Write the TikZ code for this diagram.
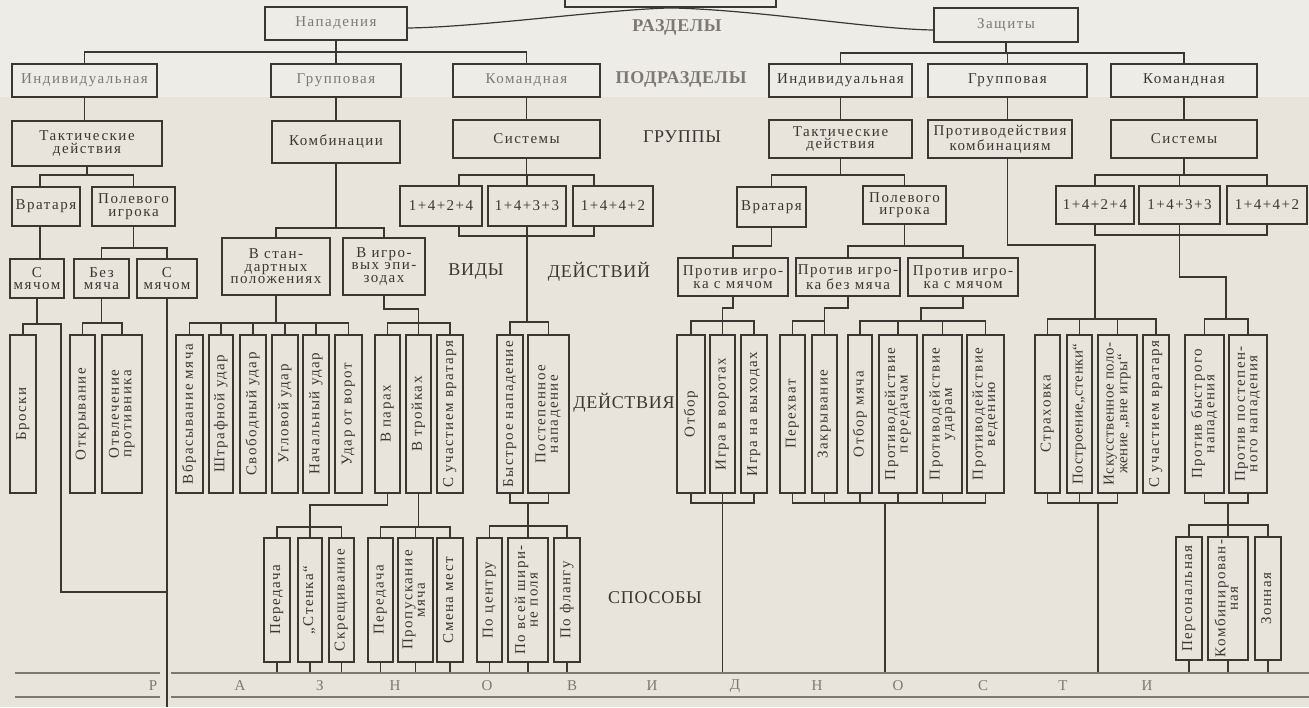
\documentclass[tikz,border=0pt]{standalone}
\usepackage{fontspec}
\usepackage{graphicx}
\setmainfont{Liberation Serif}
\newfontfamily\bxf[LetterSpace=10]{Liberation Serif}
\newfontfamily\bxn[LetterSpace=3]{Liberation Serif}
\newfontfamily\hdf[LetterSpace=4]{Liberation Serif}
\definecolor{paper}{RGB}{232,228,220}
\definecolor{paperl}{RGB}{238,236,231}
\definecolor{ink}{RGB}{58,54,50}
\definecolor{fade}{RGB}{125,120,115}
\newcommand\vt[1]{\rotatebox{90}{\begin{tabular}{@{}c@{}}#1\end{tabular}}}
\newcommand\bx[7][]{\pgfmathsetmacro\bw{#5-#3}\pgfmathsetmacro\bh{#6-#4}%
  \node[box,#1,minimum width=\bw pt,minimum height=\bh pt] (#2) at ({(#3+#5)/2},{(#4+#6)/2}) {#7};}
\tikzset{
  box/.style={draw=ink,line width=1.8pt,inner sep=0pt,align=center,text=ink,
    font=\bxf\fontsize{15}{12.5}\selectfont},
  narrow/.style={font=\bxn\fontsize{15}{12.5}\selectfont},
  faded/.style={text=fade},
  ln/.style={draw=ink,line width=1.2pt},
  hd/.style={text=ink,font=\hdf\fontsize{18}{18}\selectfont,inner sep=0pt},
  hdb/.style={text=fade,font=\hdf\bfseries\fontsize{18}{18}\selectfont,inner sep=0pt},
  lt/.style={text=fade,font=\fontsize{15}{15}\selectfont,inner sep=0pt},
  base/.style={draw=fade,line width=1.6pt}
}
\begin{document}
\begin{tikzpicture}[x=1pt,y=-1pt]
\useasboundingbox (0,0) rectangle (1309,707);
\clip (0,0) rectangle (1309,707);
\fill[paper] (0,0) rectangle (1309,707);
\fill[paperl] (0,0) rectangle (1309,97);
% ---------- level 1
\bx{top}{565}{-30}{776}{7}{}
\bx[faded]{napad}{265}{7}{407}{40}{Нападения}
\bx[faded]{zash}{934}{8}{1078}{42}{Защиты}
\node[hdb] (lraz) at (677,27) {РАЗДЕЛЫ};
% ---------- level 2
\bx[faded]{aInd}{12}{64}{157}{97}{Индивидуальная}
\bx[faded]{aGrp}{271}{64}{401}{97}{Групповая}
\bx[faded]{aKom}{453}{64}{600}{97}{Командная}
\bx{dInd}{769}{64}{912}{97}{Индивидуальная}
\bx{dGrp}{928}{64}{1087}{97}{Групповая}
\bx{dKom}{1111}{64}{1257}{97}{Командная}
\node[hdb] (lpod) at (681,79) {ПОДРАЗДЕЛЫ};
% ---------- level 3
\bx{aTak}{12}{121}{162}{166}{Тактические\\действия}
\bx{aKomb}{272}{121}{400}{163}{Комбинации}
\bx{aSys}{453}{120}{600}{158}{Системы}
\bx{dTak}{769}{120}{912}{158}{Тактические\\действия}
\bx{dPro}{928}{120}{1072}{158}{Противодействия\\комбинациям}
\bx{dSys}{1111}{120}{1257}{158}{Системы}
\node[hd] (lgr) at (682,137) {ГРУППЫ};
% ---------- level 4
\bx{aVrat}{12}{187}{80}{226}{Вратаря}
\bx{aPol}{92}{187}{175}{226}{Полевого\\игрока}
\bx{aS1}{222}{238}{330}{295}{В стан-\\дартных\\положениях}
\bx{aIgr}{343}{238}{425}{295}{В игро-\\вых эпи-\\зодах}
\bx{s1}{400}{186}{482}{226}{1+4+2+4}
\bx{s2}{488}{186}{566}{226}{1+4+3+3}
\bx{s3}{573}{186}{653}{226}{1+4+4+2}
\bx{dVrat}{737}{187}{806}{227}{Вратаря}
\bx{dPol}{863}{186}{946}{224}{Полевого\\игрока}
\bx{t1}{1056}{186}{1134}{224}{1+4+2+4}
\bx{t2}{1139}{186}{1220}{224}{1+4+3+3}
\bx{t3}{1227}{186}{1307}{224}{1+4+4+2}
% ---------- level 5
\bx{aSm1}{10}{259}{64}{298}{С\\мячом}
\bx{aBez}{74}{259}{129}{298}{Без\\мяча}
\bx{aSm2}{137}{259}{197}{298}{С\\мячом}
\bx{dP1}{678}{258}{788}{296}{Против игро-\\ка с мячом}
\bx{dP2}{796}{258}{900}{296}{Против игро-\\ка без мяча}
\bx{dP3}{908}{258}{1018}{296}{Против игро-\\ка с мячом}
\node[hd] (lvid) at (476,272) {ВИДЫ};
\node[hd] (ldei) at (599,272) {ДЕЙСТВИЙ};
% ---------- level 6 (tall boxes)
\bx{br}{10}{335}{36}{493}{\vt{Броски}}
\bx{otk}{70}{335}{95}{493}{\vt{Открывание}}
\bx{otv}{102}{335}{142}{493}{\vt{Отвлечение\\противника}}
\bx{vbr}{176}{335}{203}{493}{\vt{Вбрасывание мяча}}
\bx{shtr}{209}{335}{233}{493}{\vt{Штрафной удар}}
\bx{svob}{240}{335}{266}{493}{\vt{Свободный удар}}
\bx{ugl}{272}{335}{298}{493}{\vt{Угловой удар}}
\bx{nach}{303}{335}{329}{493}{\vt{Начальный удар}}
\bx{udar}{335}{335}{362}{493}{\vt{Удар от ворот}}
\bx{par}{375}{335}{400}{493}{\vt{В парах}}
\bx{troi}{406}{335}{431}{493}{\vt{В тройках}}
\bx{suv}{437}{335}{463}{493}{\vt{С участием вратаря}}
\bx{bys}{497}{335}{523}{493}{\vt{Быстрое нападение}}
\bx{post}{528}{335}{569}{493}{\vt{Постепенное\\нападение}}
\node[hd] (ldeia) at (624,403) {ДЕЙСТВИЯ};
\bx{otb}{677}{335}{705}{493}{\vt{Отбор}}
\bx{igv}{710}{335}{735}{493}{\vt{Игра в воротах}}
\bx{igvy}{741}{335}{767}{493}{\vt{Игра на выходах}}
\bx{per}{780}{335}{805}{493}{\vt{Перехват}}
\bx{zak}{812}{335}{837}{493}{\vt{Закрывание}}
\bx{otbm}{848}{335}{872}{493}{\vt{Отбор мяча}}
\bx{ppd}{879}{335}{917}{493}{\vt{Противодействие\\передачам}}
\bx{pud}{923}{335}{962}{493}{\vt{Противодействие\\ударам}}
\bx{pved}{967}{335}{1004}{493}{\vt{Противодействие\\ведению}}
\bx{str}{1035}{335}{1060}{493}{\vt{Страховка}}
\bx[narrow]{pst}{1067}{335}{1092}{493}{\vt{Построение„стенки“}}
\bx[narrow]{isk}{1098}{335}{1137}{493}{\vt{Искусственное поло-\\жение „вне игры“}}
\bx{suv2}{1143}{335}{1169}{493}{\vt{С участием вратаря}}
\bx{pbn}{1185}{335}{1224}{493}{\vt{Против быстрого\\нападения}}
\bx{ppn}{1229}{335}{1267}{493}{\vt{Против постепен-\\ного нападения}}
% ---------- level 7
\bx{pe1}{264}{538}{290}{662}{\vt{Передача}}
\bx{st}{298}{538}{322}{662}{\vt{„Стенка“}}
\bx{skr}{329}{538}{354}{662}{\vt{Скрещивание}}
\bx{pe2}{368}{538}{393}{662}{\vt{Передача}}
\bx{prop}{398}{538}{433}{662}{\vt{Пропускание\\мяча}}
\bx{smen}{437}{538}{463}{662}{\vt{Смена мест}}
\bx{pc}{477}{538}{502}{662}{\vt{По центру}}
\bx{pvs}{508}{538}{548}{662}{\vt{По всей шири-\\не поля}}
\bx{pfl}{554}{538}{580}{662}{\vt{По флангу}}
\bx{pers}{1176}{537}{1202}{660}{\vt{Персональная}}
\bx{komb}{1208}{537}{1248}{660}{\vt{Комбинирован-\\ная}}
\bx{zon}{1255}{537}{1281}{660}{\vt{Зонная}}
\node[hd] (lspo) at (655,598) {СПОСОБЫ};
% helper coordinates
\coordinate (av) at (40,0);
\coordinate (sx1) at (459,0);
\coordinate (sx3) at (594,0);
\coordinate (brR) at (61,324);
\coordinate (brT) at (61,592);
\coordinate (c921) at (921,0);
\coordinate (c1095) at (1095,0);
\coordinate (pbx) at (1226,0);
\coordinate (c885) at (885,0);
\coordinate (c1098) at (1098,0);
% ---------- connectors level 1-2
\draw[ln] (top.south) .. controls (600,10) and (480,27) .. ([yshift=-4.5pt]napad.east);
\draw[ln] (top.south) .. controls (760,10) and (870,29) .. ([yshift=-5pt]zash.west);
\draw[ln] (napad.south) -- (napad.south |- 0,52);
\draw[ln] (aInd.north) -- (aInd.north |- 0,52) -- (aKom.north |- 0,52) -- (aKom.north);
\draw[ln] (aGrp.north) -- (aGrp.north |- 0,52);
\draw[ln] (zash.south) -- (zash.south |- 0,53);
\draw[ln] (dInd.north) -- (dInd.north |- 0,53) -- (dKom.north |- 0,53) -- (dKom.north);
\draw[ln] (dGrp.north) -- (dGrp.north |- 0,53);
% level 2-3
\draw[ln] (aInd.south) -- (aInd.south |- aTak.north);
\draw[ln] (aGrp.south) -- (aGrp.south |- aKomb.north);
\draw[ln] (aKom.south) -- (aKom.south |- aSys.north);
\draw[ln] (dInd.south) -- (dInd.south |- dTak.north);
\draw[ln] (dGrp.south) -- (dGrp.south |- dPro.north);
\draw[ln] (dKom.south) -- (dKom.south |- dSys.north);
% level 3-4 attack
\draw[ln] (aTak.south) -- (aTak.south |- 0,175);
\draw[ln] (av |- aVrat.north) -- (av |- 0,175) -- (aPol.north |- 0,175) -- (aPol.north);
\draw[ln] (aKomb.south) -- (aKomb.south |- 0,228);
\draw[ln] (aS1.north) -- (aS1.north |- 0,228) -- (aIgr.north |- 0,228) -- (aIgr.north);
\draw[ln] (aSys.south) -- (aSys.south |- 0,175);
\draw[ln] (sx1 |- s1.north) -- (sx1 |- 0,175) -- (sx3 |- 0,175) -- (sx3 |- s3.north);
\draw[ln] (s2.north) -- (s2.north |- 0,175);
\draw[ln] (sx1 |- s1.south) -- (sx1 |- 0,236) -- (sx3 |- 0,236) -- (sx3 |- s3.south);
\draw[ln] (s2.south) -- (s2.south |- 0,322);
% level 3-4 defense
\draw[ln] (dTak.south) -- (dTak.south |- 0,175);
\draw[ln] (dVrat.north) -- (dVrat.north |- 0,175) -- (dPol.north |- 0,175) -- (dPol.north);
\draw[ln] (dSys.south) -- (dSys.south |- 0,175);
\draw[ln] (t1.north) -- (t1.north |- 0,175) -- (t3.north |- 0,175) -- (t3.north);
\draw[ln] (t2.north) -- (t2.north |- 0,175);
\draw[ln] (t1.south) -- (t1.south |- 0,235) -- (t3.south |- 0,235) -- (t3.south);
\draw[ln] (t2.south) -- (t2.south |- 0,277) -- (pbx |- 0,277) -- (pbx |- 0,319);
\draw[ln] (pbn.north) -- (pbn.north |- 0,319) -- (ppn.north |- 0,319) -- (ppn.north);
% level 4-5
\draw[ln] (av |- aVrat.south) -- (av |- aSm1.north);
\draw[ln] (aPol.south) -- (aPol.south |- 0,248);
\draw[ln] (aBez.north) -- (aBez.north |- 0,248) -- (aSm2.north |- 0,248) -- (aSm2.north);
\draw[ln] (dVrat.south) -- (dVrat.south |- 0,246) -- (dP1.north |- 0,246) -- (dP1.north);
\draw[ln] (dPol.south) -- (dPol.south |- 0,246);
\draw[ln] (dP2.north) -- (dP2.north |- 0,246) -- (dP3.north |- 0,246) -- (dP3.north);
% level 5-6 attack
\draw[ln] (aSm1.south) -- (aSm1.south |- 0,324);
\draw[ln] (br.north) -- (br.north |- 0,324) -- (brR) -- (brT) -- (brT -| aSm2.south);
\draw[ln] (aSm2.south) -- (aSm2.south |- 0,707);
\draw[ln] (aBez.south) -- (aBez.south |- 0,323);
\draw[ln] (otk.north) -- (otk.north |- 0,323) -- (otv.north |- 0,323) -- (otv.north);
\draw[ln] (aS1.south) -- (aS1.south |- 0,323);
\draw[ln] (vbr.north) -- (vbr.north |- 0,323) -- (udar.north |- 0,323) -- (udar.north);
\foreach \n in {shtr,svob,ugl,nach} \draw[ln] (\n.north) -- (\n.north |- 0,323);
\draw[ln] (aIgr.south) -- (aIgr.south |- 0,309) -- (troi.north |- 0,309) -- (troi.north);
\draw[ln] (par.north) -- (par.north |- 0,323) -- (suv.north |- 0,323) -- (suv.north);
\draw[ln] (bys.north) -- (bys.north |- 0,322) -- (post.north |- 0,322) -- (post.north);
% level 5-6 defense
\draw[ln] (dP1.south) -- (dP1.south |- 0,308) -- (igv.north |- 0,308) -- (igv.north);
\draw[ln] (otb.north) -- (otb.north |- 0,321) -- (igvy.north |- 0,321) -- (igvy.north);
\draw[ln] (dP2.south) -- (dP2.south |- 0,308) -- (zak.north |- 0,308) -- (zak.north);
\draw[ln] (per.north) -- (per.north |- 0,321) -- (zak.north |- 0,321);
\draw[ln] (dP3.south) -- (dP3.south |- 0,308) -- (c921 |- 0,308) -- (c921 |- 0,321);
\draw[ln] (otbm.north) -- (otbm.north |- 0,321) -- (pved.north |- 0,321) -- (pved.north);
\foreach \n in {ppd,pud} \draw[ln] (\n.north) -- (\n.north |- 0,321);
\draw[ln] (dGrp.south |- dPro.south) -- (dGrp.south |- 0,245) -- (c1095 |- 0,245) -- (c1095 |- 0,319);
\draw[ln] (str.north) -- (str.north |- 0,319) -- (suv2.north |- 0,319) -- (suv2.north);
\foreach \n in {pst,isk} \draw[ln] (\n.north) -- (\n.north |- 0,319);
% level 6-7
\draw[ln] (par.south) -- (par.south |- 0,505) -- (st.north |- 0,505) -- (st.north);
\draw[ln] (pe1.north) -- (pe1.north |- 0,527) -- (skr.north |- 0,527) -- (skr.north);
\draw[ln] (troi.south) -- (troi.south |- 0,527);
\draw[ln] (pe2.north) -- (pe2.north |- 0,527) -- (smen.north |- 0,527) -- (smen.north);
\draw[ln] (prop.north) -- (prop.north |- 0,527);
\draw[ln] (bys.south) -- (bys.south |- 0,503) -- (post.south |- 0,503) -- (post.south);
\draw[ln] (pvs.north |- 0,503) -- (pvs.north);
\draw[ln] (pc.north) -- (pc.north |- 0,526) -- (pfl.north |- 0,526) -- (pfl.north);
\draw[ln] (otb.south) -- (otb.south |- 0,503) -- (igvy.south |- 0,503) -- (igvy.south);
\draw[ln] (igv.south) -- (igv.south |- 0,673);
\draw[ln] (per.south) -- (per.south |- 0,503) -- (pved.south |- 0,503) -- (pved.south);
\foreach \n in {zak,otbm,ppd,pud} \draw[ln] (\n.south) -- (\n.south |- 0,503);
\draw[ln] (c885 |- 0,503) -- (c885 |- 0,673);
\draw[ln] (str.south) -- (str.south |- 0,503) -- (isk.south |- 0,503) -- (isk.south);
\draw[ln] (pst.south) -- (pst.south |- 0,503);
\draw[ln] (c1098 |- 0,503) -- (c1098 |- 0,673);
\draw[ln] (pbn.south) -- (pbn.south |- 0,503) -- (ppn.south |- 0,503) -- (ppn.south);
\draw[ln] (komb.north |- 0,503) -- (komb.north);
\draw[ln] (pers.north) -- (pers.north |- 0,525) -- (zon.north |- 0,525) -- (zon.north);
\foreach \n in {pe1,st,skr,pe2,prop,smen,pc,pvs,pfl,pers,komb,zon} \draw[ln] (\n.south) -- (\n.south |- 0,673);
% ---------- base lines and letters
\draw[base] (15,673) -- (160,673);
\draw[base] (171,673) -- (1309,673);
\draw[base] (15,697) -- (160,697);
\draw[base] (171,697) -- (1309,697);
\foreach \x/\c [count=\i] in {153/Р,240/А,320/З,395/Н,487/О,572/В,652/И,735/Д,817/Н,898/О,983/С,1063/Т,1147/И}
  \node[lt] (let\i) at (\x,686) {\c};
\end{tikzpicture}
\end{document}
